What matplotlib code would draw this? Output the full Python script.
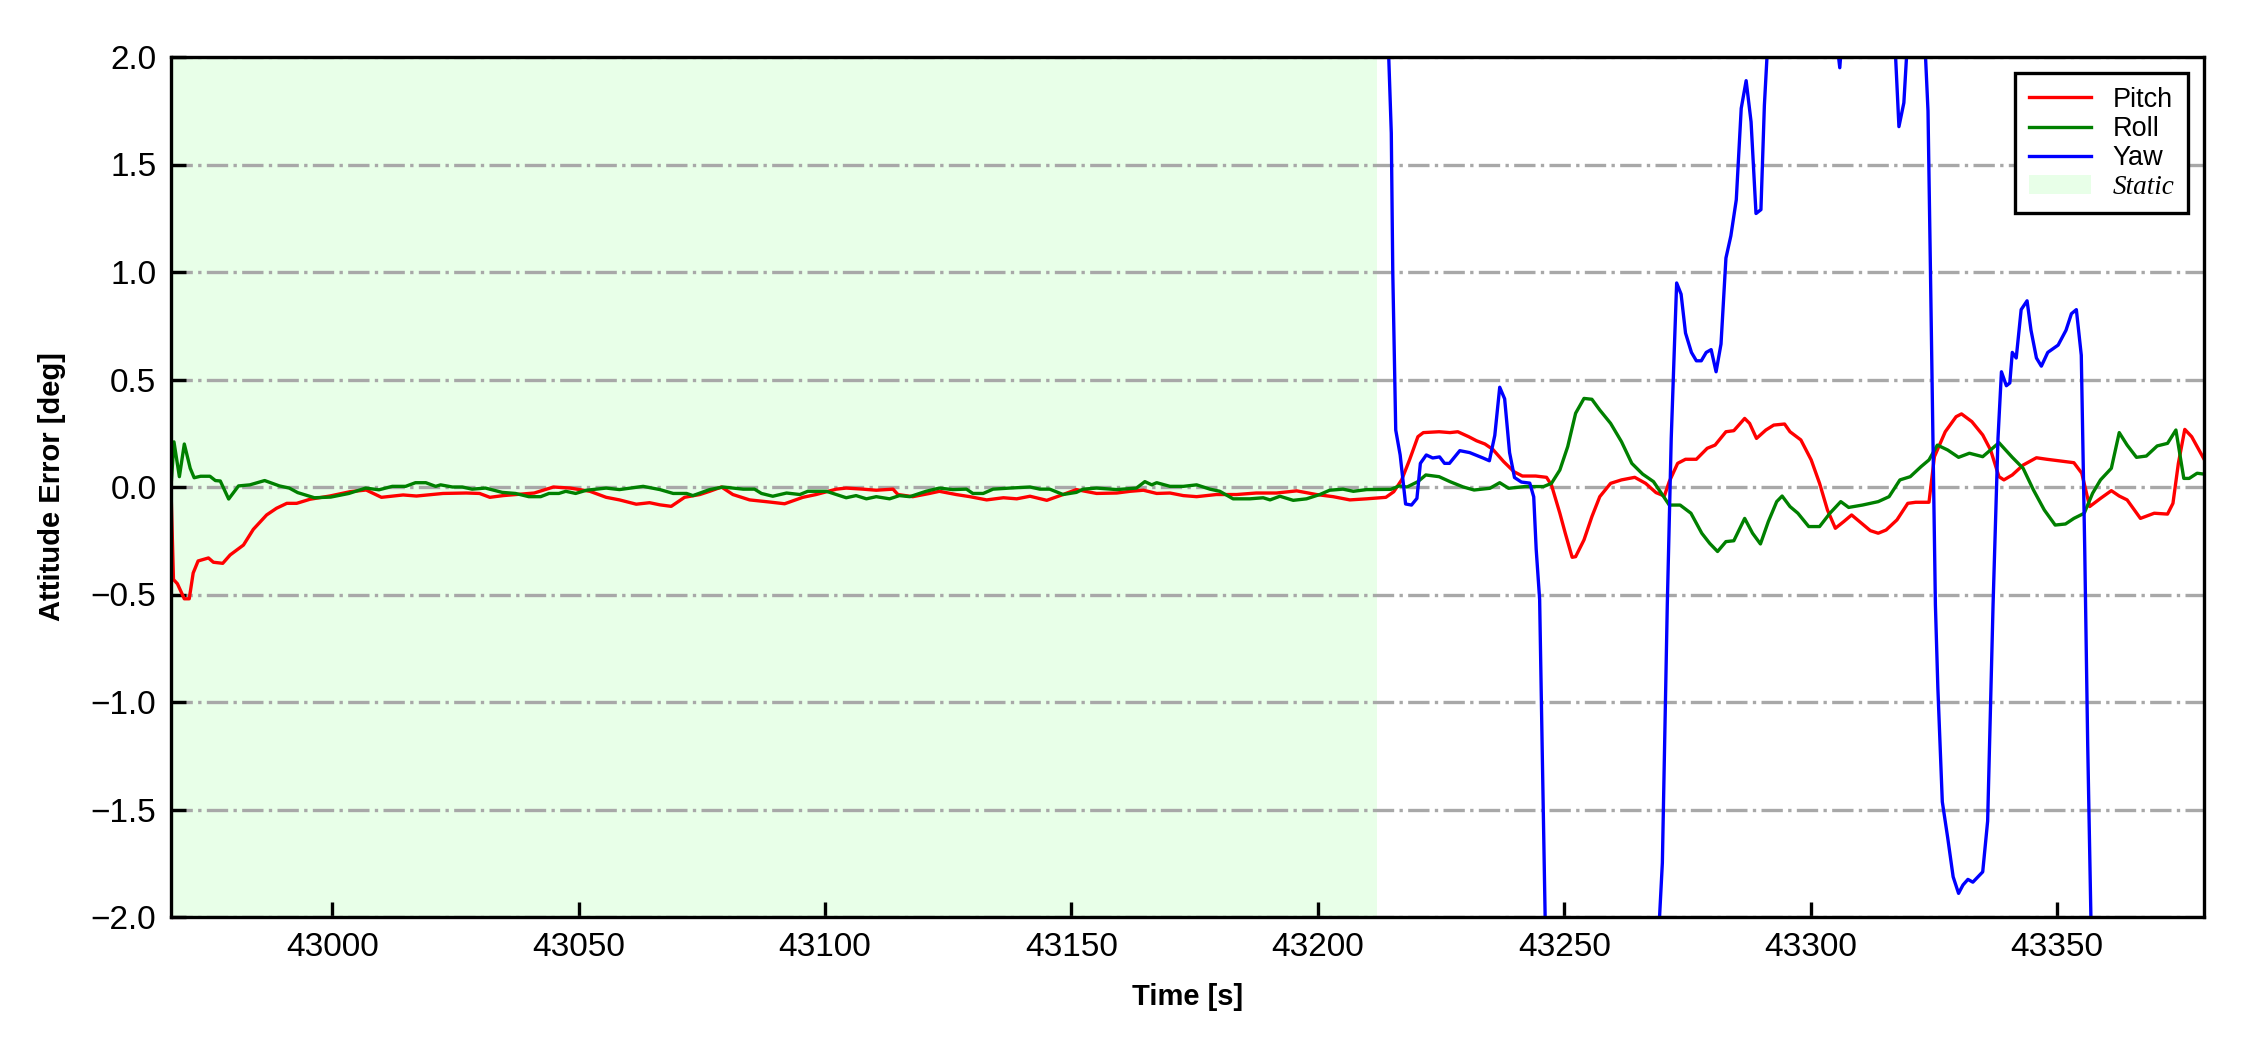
import matplotlib
matplotlib.use("Agg")
import matplotlib.pyplot as plt
import numpy as np

plt.rcParams['font.family'] = ['Liberation Sans', 'DejaVu Sans']

# ---------------- data ----------------
t_pitch = [42967.3, 42967.8, 42968.6, 42970.0, 42971.0, 42971.8, 42972.8, 42974.9, 42975.9, 42977.8,
           42979.3, 42982.0, 42984.0, 42986.7, 42988.7, 42990.8, 42992.8, 42995.5, 42999.5, 43003.6,
           43006.9, 43010.0, 43014.4, 43017.1, 43022.5, 43027.2, 43029.9, 43032.0, 43034.7, 43037.4,
           43041.0, 43044.9, 43048.3, 43052.3, 43055.6, 43058.3, 43061.7, 43064.4, 43066.5, 43068.8,
           43071.5, 43074.6, 43076.6, 43079.0, 43081.3, 43084.7, 43088.8, 43091.8, 43095.5, 43098.2,
           43102.3, 43104.3, 43107.7, 43110.4, 43113.8, 43114.8, 43117.8, 43121.2, 43123.2, 43126.6,
           43129.4, 43132.8, 43136.2, 43138.9, 43141.6, 43145.0, 43147.7, 43151.0, 43155.1, 43159.2,
           43161.9, 43164.6, 43167.3, 43170.0, 43172.7, 43175.4, 43179.4, 43183.5, 43187.5, 43191.6,
           43195.7, 43199.7, 43203.1, 43206.5, 43209.9, 43213.8, 43215.4, 43217.0, 43218.6, 43220.3,
           43221.4, 43224.6, 43226.8, 43228.4, 43230.6, 43232.2, 43233.9, 43235.5, 43237.7, 43239.8,
           43241.5, 43244.2, 43246.4, 43247.4, 43249.1, 43250.2, 43251.6, 43252.3, 43254.0, 43255.6,
           43257.2, 43259.4, 43261.6, 43264.3, 43266.5, 43268.6, 43270.3, 43271.3, 43273.0, 43274.6,
           43276.8, 43279.0, 43280.6, 43282.8, 43284.4, 43286.6, 43287.6, 43289.0, 43290.9, 43292.5,
           43294.7, 43295.8, 43298.0, 43300.1, 43301.8, 43303.4, 43305.0, 43306.7, 43308.3, 43309.9,
           43312.1, 43313.7, 43315.3, 43317.5, 43319.7, 43321.3, 43324.0, 43325.1, 43327.3, 43329.5,
           43330.6, 43332.7, 43334.9, 43336.5, 43338.2, 43339.2, 43340.9, 43343.1, 43345.8, 43347.9,
           43351.7, 43353.4, 43355.0, 43356.6, 43358.8, 43361.0, 43362.6, 43364.2, 43366.9, 43369.7,
           43372.4, 43373.5, 43374.6, 43375.9, 43377.3, 43379.8]
pitch = [-0.01, -0.43, -0.45, -0.52, -0.52, -0.40, -0.344, -0.33, -0.35, -0.355,
         -0.316, -0.27, -0.197, -0.13, -0.099, -0.076, -0.076, -0.057, -0.042, -0.022,
         -0.014, -0.048, -0.037, -0.042, -0.03, -0.028, -0.03, -0.048, -0.04, -0.035,
         -0.028, 0.0, -0.005, -0.02, -0.048, -0.06, -0.08, -0.073, -0.083, -0.09,
         -0.048, -0.035, -0.02, 0.0, -0.035, -0.06, -0.07, -0.078, -0.048, -0.035,
         -0.01, -0.005, -0.01, -0.015, -0.01, -0.035, -0.045, -0.03, -0.02, -0.035,
         -0.045, -0.06, -0.05, -0.055, -0.043, -0.062, -0.04, -0.012, -0.03, -0.028,
         -0.02, -0.015, -0.03, -0.028, -0.04, -0.045, -0.035, -0.035, -0.028, -0.028,
         -0.018, -0.035, -0.045, -0.06, -0.055, -0.048, -0.022, 0.033, 0.126, 0.234,
         0.253, 0.257, 0.253, 0.257, 0.234, 0.215, 0.20, 0.175, 0.118, 0.071,
         0.051, 0.051, 0.045, 0.009, -0.122, -0.215, -0.327, -0.324, -0.246, -0.138,
         -0.045, 0.017, 0.033, 0.045, 0.017, -0.026, -0.042, 0.025, 0.11, 0.129,
         0.129, 0.18, 0.195, 0.257, 0.262, 0.319, 0.296, 0.226, 0.265, 0.288,
         0.293, 0.257, 0.219, 0.126, 0.017, -0.107, -0.192, -0.161, -0.13, -0.161,
         -0.203, -0.215, -0.20, -0.153, -0.076, -0.071, -0.071, 0.141, 0.257, 0.327,
         0.34, 0.304, 0.242, 0.172, 0.048, 0.033, 0.056, 0.102, 0.136, 0.129,
         0.118, 0.113, 0.064, -0.091, -0.053, -0.017, -0.042, -0.06, -0.146, -0.122,
         -0.126, -0.076, 0.11, 0.268, 0.234, 0.13]

t_roll = [42967.3, 42967.9, 42969.0, 42970.0, 42971.2, 42972.0, 42973.3, 42975.2, 42976.3, 42977.3,
          42979.0, 42981.0, 42983.3, 42986.3, 42989.3, 42991.3, 42993.0, 42996.4, 42999.7, 43003.4,
          43006.8, 43009.5, 43012.2, 43014.9, 43016.9, 43019.0, 43021.0, 43022.0, 43024.4, 43026.4,
          43028.4, 43031.1, 43034.5, 43037.2, 43039.9, 43042.3, 43044.0, 43046.0, 43047.4, 43049.4,
          43051.6, 43055.6, 43058.3, 43063.1, 43066.5, 43069.2, 43071.9, 43073.2, 43076.6, 43079.3,
          43083.4, 43085.7, 43087.1, 43089.4, 43092.2, 43094.9, 43096.5, 43100.3, 43102.3, 43104.3,
          43106.3, 43108.4, 43110.4, 43113.1, 43115.1, 43117.2, 43120.5, 43123.2, 43125.9, 43128.7,
          43130.0, 43132.1, 43134.1, 43137.5, 43141.6, 43143.6, 43145.6, 43148.3, 43151.0, 43152.4,
          43155.1, 43159.2, 43163.2, 43164.9, 43166.3, 43167.3, 43170.0, 43172.7, 43175.4, 43178.1,
          43180.1, 43182.8, 43186.2, 43188.9, 43190.3, 43192.3, 43195.0, 43197.7, 43200.4, 43202.4,
          43205.1, 43207.2, 43209.9, 43214.8, 43216.5, 43218.1, 43220.3, 43221.9, 43224.6, 43226.8,
          43229.5, 43231.7, 43234.9, 43236.9, 43238.7, 43242.0, 43245.8, 43247.4, 43249.1, 43250.7,
          43252.3, 43254.0, 43255.6, 43257.2, 43259.4, 43261.6, 43263.7, 43265.9, 43268.1, 43269.7,
          43271.3, 43273.5, 43275.7, 43277.9, 43279.5, 43281.1, 43282.8, 43284.4, 43286.6, 43288.2,
          43289.8, 43291.4, 43293.1, 43294.2, 43295.8, 43297.4, 43299.6, 43301.8, 43303.9, 43306.1,
          43307.7, 43310.5, 43313.7, 43315.9, 43318.1, 43320.2, 43322.4, 43324.0, 43325.7, 43327.8,
          43330.0, 43332.2, 43334.9, 43338.2, 43340.9, 43343.1, 43345.2, 43347.4, 43349.6, 43351.7,
          43353.4, 43355.5, 43357.2, 43358.8, 43361.0, 43362.6, 43364.2, 43366.1, 43368.1, 43370.3,
          43372.4, 43374.1, 43375.7, 43376.8, 43378.4, 43379.8]
roll = [0.0, 0.21, 0.048, 0.20, 0.087, 0.043, 0.05, 0.05, 0.03, 0.028,
        -0.056, 0.005, 0.01, 0.03, 0.005, -0.005, -0.026, -0.05, -0.047, -0.03,
        -0.005, -0.013, 0.003, 0.003, 0.02, 0.02, 0.003, 0.01, 0.0, 0.0,
        -0.01, -0.005, -0.025, -0.03, -0.045, -0.045, -0.03, -0.03, -0.02, -0.03,
        -0.015, -0.005, -0.012, 0.003, -0.012, -0.03, -0.03, -0.04, -0.012, 0.0,
        -0.01, -0.01, -0.03, -0.043, -0.028, -0.035, -0.02, -0.02, -0.035, -0.05,
        -0.04, -0.055, -0.045, -0.055, -0.04, -0.045, -0.02, -0.005, -0.012, -0.01,
        -0.03, -0.03, -0.01, -0.005, 0.0, -0.01, -0.01, -0.035, -0.025, -0.01,
        -0.005, -0.012, -0.005, 0.025, 0.01, 0.02, 0.003, 0.003, 0.01, -0.01,
        -0.02, -0.055, -0.055, -0.05, -0.06, -0.043, -0.062, -0.055, -0.035, -0.015,
        -0.01, -0.02, -0.012, -0.011, 0.005, 0.0, 0.025, 0.056, 0.048, 0.025,
        0.0, -0.014, -0.006, 0.02, -0.006, 0.002, 0.002, 0.017, 0.079, 0.188,
        0.343, 0.412, 0.408, 0.358, 0.296, 0.211, 0.11, 0.06, 0.025, -0.029,
        -0.084, -0.084, -0.122, -0.215, -0.262, -0.30, -0.254, -0.25, -0.146, -0.215,
        -0.265, -0.161, -0.068, -0.042, -0.091, -0.122, -0.184, -0.184, -0.122, -0.068,
        -0.095, -0.084, -0.068, -0.045, 0.033, 0.048, 0.095, 0.126, 0.195, 0.172,
        0.138, 0.157, 0.141, 0.206, 0.138, 0.087, -0.014, -0.107, -0.177, -0.172,
        -0.146, -0.122, -0.029, 0.033, 0.087, 0.253, 0.195, 0.138, 0.144, 0.191,
        0.203, 0.265, 0.04, 0.04, 0.064, 0.06]

t_yaw = [43213.5, 43214.9, 43215.2, 43215.8, 43216.7, 43217.8, 43219.0, 43220.1, 43220.8, 43222.0,
         43223.3, 43224.7, 43225.7, 43226.7, 43228.8, 43230.8, 43233.5, 43234.8, 43235.9, 43236.9,
         43237.9, 43238.9, 43239.9, 43241.3, 43243.0, 43243.8, 43244.3, 43245.0, 43245.5, 43246.5,
         43268.2, 43269.9, 43270.9, 43271.7, 43272.4, 43272.8, 43273.7, 43274.6, 43275.8, 43276.8,
         43277.8, 43278.8, 43279.8, 43280.8, 43281.8, 43282.8, 43283.8, 43284.9, 43285.9, 43286.9,
         43287.9, 43288.9, 43289.9, 43290.6, 43291.6, 43304.9, 43305.9, 43306.7, 43316.6, 43317.9,
         43318.9, 43320.2, 43322.9, 43323.8, 43324.3, 43324.8, 43325.3, 43325.8, 43326.7, 43327.8,
         43328.9, 43330.0, 43330.9, 43331.9, 43332.9, 43334.9, 43335.9, 43337.0, 43338.0, 43338.7,
         43339.7, 43340.4, 43340.9, 43341.7, 43342.7, 43343.9, 43344.7, 43345.8, 43346.8, 43348.1,
         43350.2, 43351.8, 43352.9, 43353.9, 43354.9, 43355.6, 43356.2, 43357.5, 43379.8]
yaw = [2.6, 1.646, 1.0, 0.265, 0.149, -0.079, -0.084, -0.053, 0.11, 0.149,
       0.135, 0.14, 0.11, 0.11, 0.169, 0.16, 0.135, 0.122, 0.24, 0.464,
       0.41, 0.16, 0.044, 0.023, 0.018, -0.046, -0.29, -0.523, -1.194, -2.5,
       -2.5, -1.748, -0.548, 0.226, 0.69, 0.949, 0.897, 0.716, 0.626, 0.587,
       0.587, 0.626, 0.639, 0.536, 0.665, 1.065, 1.168, 1.336, 1.761, 1.89,
       1.698, 1.272, 1.29, 1.775, 2.2, 2.15, 1.95, 2.2, 2.3, 1.676,
       1.787, 2.3, 2.2, 1.749, 1.0, 0.226, -0.548, -0.935, -1.464, -1.632,
       -1.813, -1.89, -1.851, -1.825, -1.838, -1.79, -1.554, -0.548, 0.226, 0.536,
       0.471, 0.484, 0.626, 0.60, 0.825, 0.866, 0.729, 0.60, 0.562, 0.626,
       0.66, 0.729, 0.806, 0.825, 0.613, -0.29, -1.194, -2.8, -2.8]

static_start = 42967.3
static_end = 43211.9

series_labels = ['Pitch', 'Roll', 'Yaw', 'Static']
yticks = [-2.0, -1.5, -1.0, -0.5, 0.0, 0.5, 1.0, 1.5, 2.0]
xticks = [43000, 43050, 43100, 43150, 43200, 43250, 43300, 43350]

# ---------------- plot ----------------
fig = plt.figure(figsize=(7.5, 3.5), dpi=300)
ax = fig.add_axes([171/2250, 1 - 917/1050, (2204 - 171)/2250, (917 - 57)/1050])

ax.axvspan(static_start, static_end, color='lime', alpha=0.09, lw=0, label=series_labels[3], zorder=0)
l1, = ax.plot(t_pitch, pitch, color='red', lw=0.8, label=series_labels[0], zorder=3)
l2, = ax.plot(t_roll, roll, color='green', lw=0.8, label=series_labels[1], zorder=3)
l3, = ax.plot(t_yaw, yaw, color='blue', lw=0.8, label=series_labels[2], zorder=3)

ax.set_xlim(42967.3, 43379.8)
ax.set_ylim(-2.0, 2.0)
ax.set_yticks(yticks)
ax.set_xticks(xticks)
ax.set_yticklabels([f"{v:.1f}".replace('-', '\u2212') for v in yticks])
ax.set_axisbelow('line')
ax.grid(axis='y', linestyle='-.', color='#a8a8a8', lw=0.8)

ax.tick_params(direction='in', length=3.5, width=0.8, labelsize=8, top=False, right=False)
for s in ax.spines.values():
    s.set_linewidth(0.8)
    s.set_zorder(5)

ax.set_xlabel('Time [s]', fontsize=7, fontweight='bold', labelpad=5)
ax.set_ylabel('Attitude Error [deg]', fontsize=7, fontweight='bold', labelpad=6)

handles, labels = ax.get_legend_handles_labels()
order = [labels.index(n) for n in series_labels]
leg = ax.legend([handles[i] for i in order], [labels[i] for i in order],
                loc='upper right', fontsize=6.5, fancybox=False, framealpha=1,
                edgecolor='black', handlelength=2.3, handletextpad=0.8,
                labelspacing=0.12, borderpad=0.5, borderaxespad=0.6)
leg.get_frame().set_linewidth(0.8)
leg.set_zorder(6)
leg.get_texts()[3].set_fontfamily(['Liberation Serif', 'DejaVu Serif'])
leg.get_texts()[3].set_fontstyle('italic')

fig.savefig('out.png', dpi=300)
